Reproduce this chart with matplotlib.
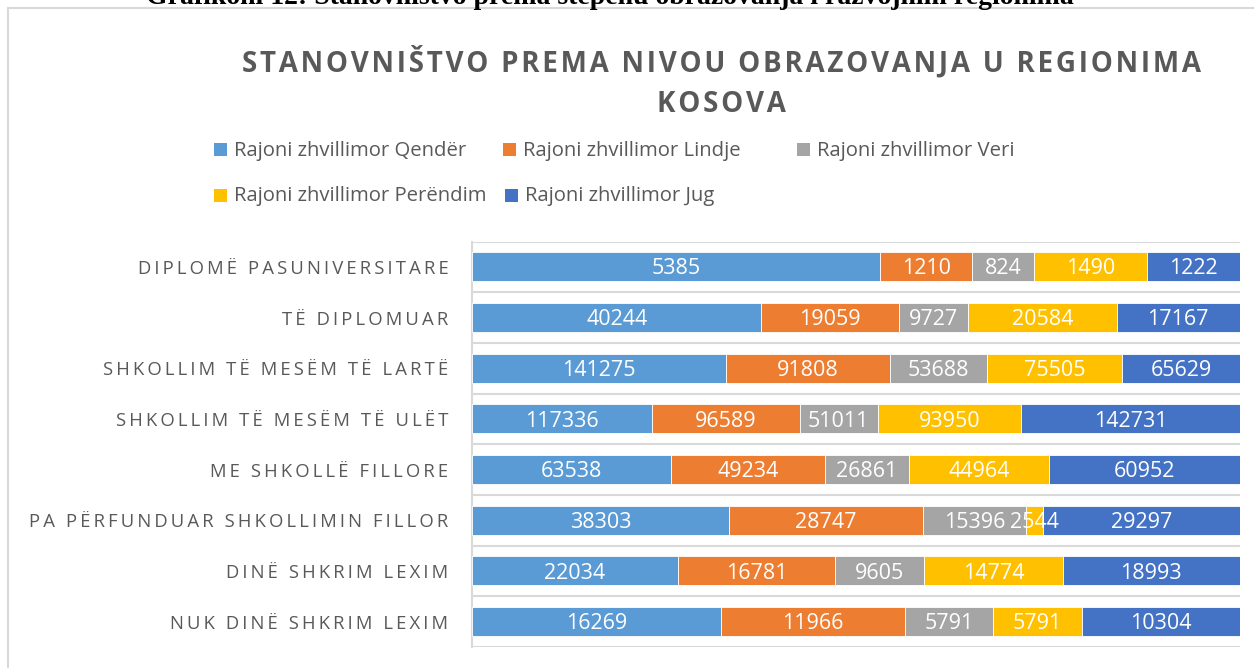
import numpy as np
import matplotlib
matplotlib.use("Agg")
import matplotlib.pyplot as plt
from matplotlib.patches import Rectangle

# ---------------- data ----------------
categories = ["DIPLOMË PASUNIVERSITARE", "TË DIPLOMUAR", "SHKOLLIM TË MESËM TË LARTË",
              "SHKOLLIM TË MESËM TË ULËT", "ME SHKOLLË FILLORE",
              "PA PËRFUNDUAR SHKOLLIMIN FILLOR", "DINË SHKRIM LEXIM", "NUK DINË SHKRIM LEXIM"]
series_names = ["Rajoni zhvillimor Qendër", "Rajoni zhvillimor Lindje", "Rajoni zhvillimor Veri",
                "Rajoni zhvillimor Perëndim", "Rajoni zhvillimor Jug"]
qender = [5385, 40244, 141275, 117336, 63538, 38303, 22034, 16269]
lindje = [1210, 19059, 91808, 96589, 49234, 28747, 16781, 11966]
veri = [824, 9727, 53688, 51011, 26861, 15396, 9605, 5791]
perendim = [1490, 20584, 75505, 93950, 44964, 2544, 14774, 5791]
jug = [1222, 17167, 65629, 142731, 60952, 29297, 18993, 10304]
title_lines = ["STANOVNIŠTVO PREMA NIVOU OBRAZOVANJA U REGIONIMA", "KOSOVA"]
caption = "Grafikoni 12: Stanovništvo prema stepenu obrazovanja i razvojnim regionima"

colors = ["#5B9BD5", "#ED7D31", "#A5A5A5", "#FFC000", "#4472C4"]
TXT = "#595959"
GRID = "#D9D9D9"
FONT = ["Open Sans", "DejaVu Sans"]

W, H = 1254, 668
fig = plt.figure(figsize=(W / 100, H / 100), dpi=100)
fig.patch.set_facecolor("white")
renderer = fig.canvas.get_renderer()


def px(x):
    return x / W


def py(y):
    return 1 - y / H


def best_spacer(s, target, **kw):
    cands = ["", "\u200a", "\u2009", "\u200a\u200a", "\u2009\u200a", "\u2009\u2009", "\u2009\u2009\u200a"]
    best, berr = "", 1e9
    for c in cands:
        t = fig.text(0, 0, c.join(s), **kw)
        w = t.get_window_extent(renderer).width
        t.remove()
        if abs(w - target) < berr:
            best, berr = c, abs(w - target)
    return best


# ---------------- axes ----------------
left, right, top, bottom = 472, 1240, 241.5, 647
ax = fig.add_axes([px(left), py(bottom), px(right - left), (bottom - top) / H])

series = [np.array(qender, float), np.array(lindje, float), np.array(veri, float),
          np.array(perendim, float), np.array(jug, float)]
totals = np.sum(series, axis=0)
ypos = np.arange(len(categories))
cum = np.zeros(len(categories))
for vals, col, name in zip(series, colors, series_names):
    frac = vals / totals
    bars = ax.barh(ypos, frac, left=cum, height=0.571, color=col, label=name,
                   edgecolor="white", linewidth=0.6, zorder=3)
    for b, v in zip(bars, vals):
        ax.annotate(f"{int(v)}", (b.get_x() + b.get_width() / 2, b.get_y() + b.get_height() / 2),
                    xytext=(0, -5.5), textcoords="offset points",
                    ha="center", va="baseline", color="white", fontsize=15.5, family=FONT, zorder=4)
    cum += frac

ax.set_xlim(0, 1)
ax.set_ylim(len(categories) - 0.5, -0.5)
ax.set_xticks([])
ax.set_yticks(ypos)
ax.set_yticks(np.arange(-0.5, len(categories), 1), minor=True)
ax.grid(which="minor", axis="y", color=GRID, lw=1.5, zorder=0)
ax.tick_params(which="both", length=0)
for s in ["top", "right", "bottom"]:
    ax.spines[s].set_visible(False)
ax.spines["left"].set_color(GRID)
ax.spines["left"].set_linewidth(1.5)

lab_kw = dict(fontsize=13.3, family=FONT, color=TXT)
sp = best_spacer(categories[5], 421, **lab_kw)
ax.set_yticklabels([sp.join(c) for c in categories], **lab_kw)
ax.tick_params(axis="y", pad=17)

# ---------------- title ----------------
t_kw = dict(fontsize=20, family=FONT, color=TXT, fontweight="bold")
tsp = best_spacer(title_lines[0], 969, **t_kw)
fig.text(px(721), py(82.5), "\n".join(tsp.join(l) for l in title_lines), ha="center", va="center",
         multialignment="center", linespacing=1.55, **t_kw)

# ---------------- legend ----------------
leg_pos = [(214, 150), (503, 150), (797, 150), (214, 195), (505, 195)]
for (x, y), col, name in zip(leg_pos, colors, series_names):
    fig.add_artist(Rectangle((px(x), py(y + 6.5)), px(13), 13 / H, transform=fig.transFigure,
                             facecolor=col, edgecolor="none"))
    fig.text(px(x + 20), py(y + 1), name, ha="left", va="center", fontsize=14.6, family=FONT, color=TXT)

# ---------------- frame & caption ----------------
fig.add_artist(Rectangle((px(8), -0.1), 2, py(8) + 0.1, transform=fig.transFigure,
                         fill=False, edgecolor=GRID, lw=1.5))
fig.text(px(610), py(4), caption, ha="center", va="baseline", fontsize=20,
         family=["Liberation Serif", "DejaVu Serif"], fontweight="bold", color="black")

fig.savefig("out.png", dpi=100, facecolor="white")
